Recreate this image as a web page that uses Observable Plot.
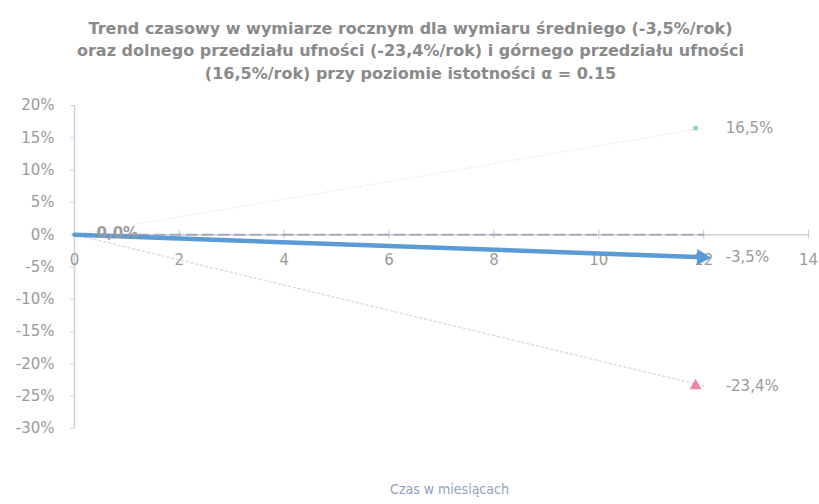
<!DOCTYPE html>
<html>
<head>
<meta charset="utf-8">
<script src="https://cdn.jsdelivr.net/npm/d3@7"></script>
<script src="https://cdn.jsdelivr.net/npm/@observablehq/plot@0.6"></script>
<style>
  html, body { margin: 0; padding: 0; background: #fff; }
  #chart svg { display: block; }
</style>
</head>
<body>
<div id="chart"></div>
<script>
// ---- data ----
const titleLines = [
  "Trend czasowy w wymiarze rocznym dla wymiaru średniego (-3,5%/rok)",
  "oraz dolnego przedziału ufności (-23,4%/rok) i górnego przedziału ufności",
  "(16,5%/rok) przy poziomie istotności α = 0.15"
];
const xTitle = "Czas w miesiącach";
const months = [0, 12];
const meanTrend = [0, -0.035];
const lowerBound = [0, -0.234];
const upperBound = [0, 0.165];
const baseline = [0, 0];
const xTickValues = [0, 2, 4, 6, 8, 10, 12, 14];
const yTickValues = [0.20, 0.15, 0.10, 0.05, 0, -0.05, -0.10, -0.15, -0.20, -0.25, -0.30];
const startLabel = "0,0%";
const endLabels = ["16,5%", "-3,5%", "-23,4%"];
const endValues = [upperBound[1], meanTrend[1], lowerBound[1]];

// ---- derived tables ----
const meanRows = months.map((m, i) => ({x: m, y: meanTrend[i]}));
const lowerRows = months.map((m, i) => ({x: m, y: lowerBound[i]}));
const upperRows = months.map((m, i) => ({x: m, y: upperBound[i]}));
const baseRows = months.map((m, i) => ({x: m, y: baseline[i]}));
const endRows = endLabels.map((t, i) => ({x: months[1], y: endValues[i], t}));

const font = "'DejaVu Sans', sans-serif";
const grey = "#9a9a9a";

const plot = Plot.plot({
  width: 819,
  height: 504,
  marginLeft: 74,
  marginRight: 11,
  marginTop: 105,
  marginBottom: 76,
  style: {fontFamily: font, background: "#fff"},
  x: {domain: [0, 14], axis: null},
  y: {domain: [-0.30, 0.20], axis: null},
  marks: [
    // y axis line
    Plot.ruleX([0], {y1: -0.30, y2: 0.20, stroke: "#c9d3ea", strokeWidth: 1.5}),
    Plot.axisY({
      ticks: yTickValues,
      tickFormat: d => `${Math.round(d * 100)}%`,
      tickSize: 4,
      tickPadding: 16,
      stroke: "#d0d6e4",
      color: grey,
      fontSize: 15,
      label: null
    }),
    // x axis line at 0 and ticks
    Plot.ruleY([0], {x1: 0, x2: 14, stroke: "#cfcfd6", strokeWidth: 1.5}),
    Plot.ruleX(xTickValues.slice(1), {y1: -0.007, y2: 0.007, stroke: "#cfcfd6", strokeWidth: 1.2}),
    Plot.text(xTickValues, {x: d => d, y: 0, dy: 25, text: d => String(d), fill: grey, fontSize: 15}),
    // faint confidence lines
    Plot.line(upperRows, {x: "x", y: "y", stroke: "#f0f0f0", strokeWidth: 1.5, strokeDasharray: "2,3"}),
    Plot.line(lowerRows, {x: "x", y: "y", stroke: "#dddddd", strokeWidth: 1.5, strokeDasharray: "2,3"}),
    // dashed baseline
    Plot.line(baseRows, {x: "x", y: "y", stroke: "#a9a6bd", strokeWidth: 2, strokeDasharray: "10,6"}),
    // mean trend line with arrow head
    Plot.line(meanRows, {x: "x", y: "y", stroke: "#5b9bd5", strokeWidth: 4.5}),
    Plot.dot([meanRows[1]], {x: "x", y: "y", symbol: "triangle", r: 6, fill: "#5b9bd5", rotate: 92, dx: -2}),
    // end markers
    Plot.dot([endRows[0]], {x: "x", y: "y", symbol: "square", r: 2.5, fill: "#8fd0b0", dx: -8}),
    Plot.dot([endRows[2]], {x: "x", y: "y", symbol: "triangle", r: 4.5, fill: "#ec8aa5", dx: -8}),
    // labels
    Plot.text(endRows, {x: "x", y: "y", text: "t", textAnchor: "start", dx: 22, fill: grey, fontSize: 15}),
    Plot.text([startLabel], {x: () => months[0], y: () => meanTrend[0], text: d => d, textAnchor: "start", dx: 22, dy: -2, fill: grey, fontSize: 15, fontWeight: "bold"}),
    // title
    Plot.text(titleLines, {
      frameAnchor: "top", text: d => d,
      fill: "#8a8a8a", fontSize: 16, fontWeight: "bold"
    }),
    // x-axis title
    Plot.text([xTitle], {frameAnchor: "bottom", text: d => d, dy: 65, dx: 8, fill: "#8fa0c4", fontSize: 14, fontFamily: "'DejaVu Sans Condensed', 'DejaVu Sans', sans-serif"})
  ]
});

// position title lines (each on its own row above the frame)
const titleYs = [33, 55, 78];
const texts = plot.querySelectorAll("g[aria-label='text']");
const titleGroup = texts[texts.length - 2];
titleGroup.querySelectorAll("text").forEach((t, i) => {
  t.setAttribute("y", titleYs[i]);
  t.removeAttribute("transform");
  t.setAttribute("x", 410);
});
document.getElementById("chart").appendChild(plot);
</script>
</body>
</html>
